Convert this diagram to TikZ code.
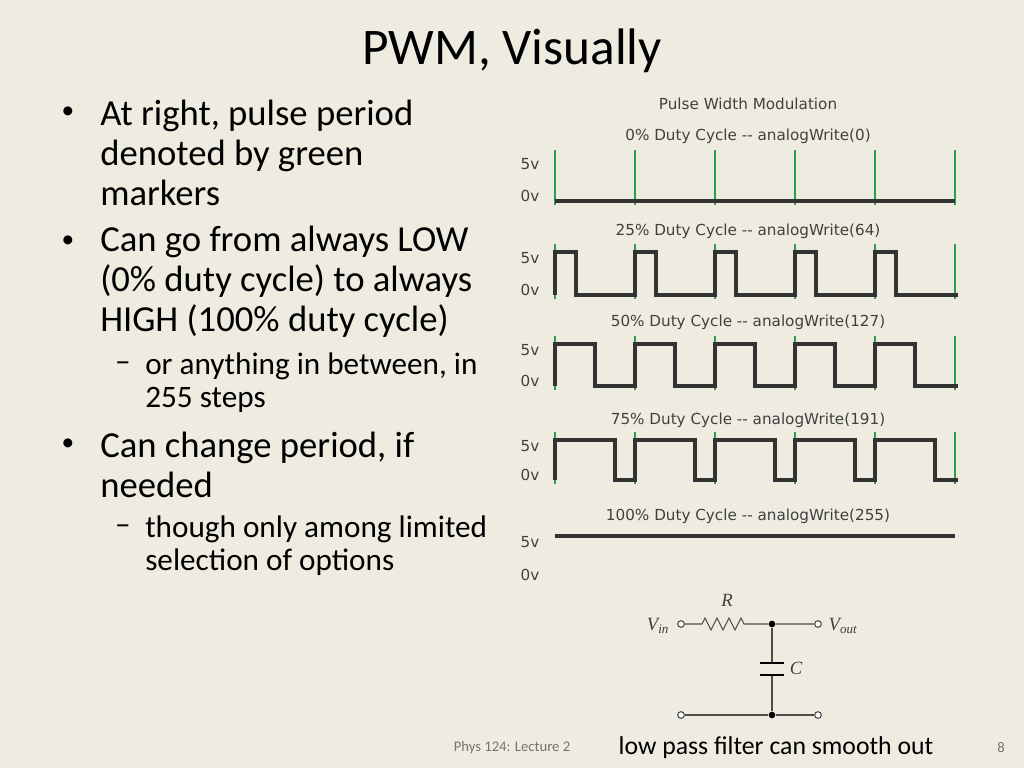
\documentclass[tikz,border=0pt]{standalone}
\usepackage{fontspec}
\setmainfont{Carlito}
\newfontfamily\wavefont{DejaVu Sans}
\newfontfamily\circfont{Liberation Serif}
\usetikzlibrary{calc}
\definecolor{slidebg}{HTML}{EEECE1}
\definecolor{marker}{HTML}{2E9E4A}
\tikzstyle{annot} = [align=left, anchor=west, inner sep=0pt]
\tikzstyle{wlabel} = [font=\wavefont\fontsize{11.4}{13}\selectfont, text=black!75, inner sep=0pt]
\tikzstyle{wave} = [line width=3pt, black!80, line join=miter]
\tikzstyle{term} = [circle, draw=black!70, fill=white, minimum size=5pt, inner sep=0pt, thick]
\tikzstyle{junc} = [circle, fill=black, minimum size=5pt, inner sep=0pt]
\newcommand{\drawrow}[4]
{
  % #1 = title y, #2 = high y, #3 = low y, #4 = title
  \node[wlabel] at (748,#1) {#4};
  \node[wlabel] at (530,#2+6) {5v};
  \node[wlabel] at (530,#3-5) {0v};
  \foreach \k in {0,...,5}
    \draw[marker, line width=0.9pt] (555+80*\k,#2-8) -- (555+80*\k,#3+4);
}
\begin{document}
\begin{tikzpicture}[x=0.75pt, y=-0.75pt]
  \fill[slidebg] (0,0) rectangle (1024,768);
  \useasboundingbox (0,0) rectangle (1024,768);

  \node[font=\fontsize{38.5}{40}\selectfont] (title) at (512,51) {PWM, Visually};

  % left column
  \begin{scope}[font=\fontsize{27.5}{30}\selectfont]
    \node[font=\fontsize{19}{20}\selectfont] at (68,113) {\textbullet};
    \node[annot] (b1) at (100,153) {At right, pulse period\\denoted by green\\markers};
    \node[font=\fontsize{19}{20}\selectfont] at (68,242) {\textbullet};
    \node[annot] (b2) at (100,282) {Can go from always LOW\\(0\% duty cycle) to always\\HIGH (100\% duty cycle)};
    \node[font=\fontsize{19}{20}\selectfont] at (68,445) {\textbullet};
    \node[annot] (b3) at (100,465) {Can change period, if\\needed};
  \end{scope}
  \begin{scope}[font=\fontsize{23.4}{25}\selectfont]
    \node at (123,367) {--};
    \node[annot] (s1) at (145,383) {or anything in between, in\\255 steps};
    \node at (123,530) {--};
    \node[annot] (s2) at (145,546) {though only among limited\\selection of options};
  \end{scope}

  % waveforms
  \node[wlabel] (pwm) at (748,104) {Pulse Width Modulation};
  \drawrow{136}{158}{201}{0\% Duty Cycle -- analogWrite(0)}
  \draw[wave] (555,201) -- (955,201);
  \drawrow{231}{252}{295}{25\% Duty Cycle -- analogWrite(64)}
  \draw[wave] (555,295) foreach \k in {0,...,4} {-- (555+80*\k,295) -- (555+80*\k,252) -- (576+80*\k,252) -- (576+80*\k,295)} -- (958,295);
  \drawrow{322}{344}{386}{50\% Duty Cycle -- analogWrite(127)}
  \draw[wave] (555,386) foreach \k in {0,...,4} {-- (555+80*\k,386) -- (555+80*\k,344) -- (595+80*\k,344) -- (595+80*\k,386)} -- (958,386);
  \drawrow{420}{440}{480}{75\% Duty Cycle -- analogWrite(191)}
  \draw[wave] (555,480) foreach \k in {0,...,4} {-- (555+80*\k,480) -- (555+80*\k,440) -- (615+80*\k,440) -- (615+80*\k,480)} -- (958,480);
  \node[wlabel] at (748,516) {100\% Duty Cycle -- analogWrite(255)};
  \node[wlabel] at (530,542) {5v};
  \node[wlabel] at (530,575) {0v};
  \draw[wave] (555,536) -- (955,536);

  % low pass filter
  \node[term] (vin) at (681,624) {};
  \node[term] (vout) at (818,624) {};
  \node[junc] (top) at (772,624) {};
  \node[term] (gin) at (681,715) {};
  \node[term] (gout) at (818,715) {};
  \node[junc] (bot) at (772,715) {};
  \coordinate (capa) at (772,663);
  \coordinate (capb) at (772,675);
  \draw[black!70, thick] (vin) -- (702,624) -- ++(3,-6) -- ++(6,12) -- ++(6,-12) -- ++(6,12) -- ++(6,-12) -- ++(6,12) -- ++(6,-12) -- ++(3,6) -- (top) -- (vout);
  \draw[black!70, thick] (top) -- (capa) (capb) -- (bot);
  \draw[black, line width=2pt] (760,663) -- (784,663) (760,675) -- (784,675);
  \draw[black!70, thick] (gin) -- (bot) -- (gout);
  \begin{scope}[font=\circfont\itshape\fontsize{14}{16}\selectfont, text=black!75]
    \node at (727,600) {R};
    \node at (796,668) {C};
    \node at (658,626) {V\textsubscript{in}};
    \node at (843,626) {V\textsubscript{out}};
  \end{scope}

  % footer
  \node[font=\fontsize{11}{13}\selectfont, text=black!55] (foot) at (512,748) {Phys 124: Lecture 2};
  \node[font=\fontsize{19.3}{21}\selectfont] (lpf) at (776,748) {low pass filter can smooth out};
  \node[font=\fontsize{11}{13}\selectfont, text=black!55] (page) at (1001,748) {8};
\end{tikzpicture}
\end{document}
